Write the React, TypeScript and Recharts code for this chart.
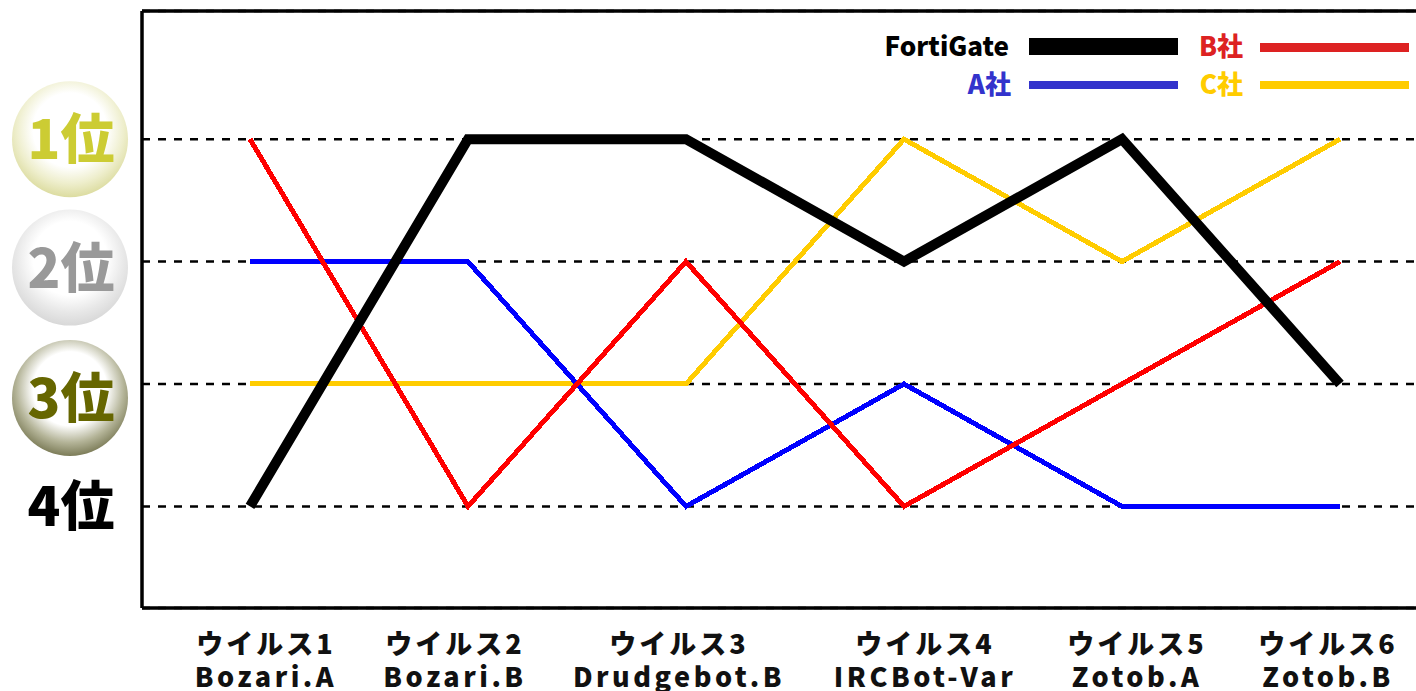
import React from 'react';
import { LineChart, Line, XAxis, YAxis, CartesianGrid, ReferenceLine } from 'recharts';

const viruses = ['ウイルス1', 'ウイルス2', 'ウイルス3', 'ウイルス4', 'ウイルス5', 'ウイルス6'];
const samples = ['Bozari.A', 'Bozari.B', 'Drudgebot.B', 'IRCBot-Var', 'Zotob.A', 'Zotob.B'];
const fortiGate = [4, 1, 1, 2, 1, 3];
const companyA = [2, 2, 4, 3, 4, 4];
const companyB = [1, 4, 2, 4, 3, 2];
const companyC = [3, 3, 3, 1, 2, 1];
const ranks = [1, 2, 3, 4];

// labels sit a bit off their points in the original
const labelShift = [16, -13, -7, 21, 15, -12];
const badgeShift = [0, 6, 14, 0];
const badgeText = ['#cccc33', '#999999', '#666600', '#000000'];

const chartData = viruses.map((name, i) => ({
  name,
  sample: samples[i],
  fortiGate: fortiGate[i],
  a: companyA[i],
  b: companyB[i],
  c: companyC[i],
}));

const FONT = '"Noto Sans CJK JP", "Noto Sans", sans-serif';

const RankTick = ({ y, payload }: any) => {
  const i = ranks.indexOf(payload.value);
  const cy = y + badgeShift[i];
  return (
    <g>
      {i < 3 && <circle cx={70} cy={cy} r={58} fill={`url(#badge${i})`} />}
      <text
        x={71}
        y={cy + 20}
        textAnchor="middle"
        fontFamily={FONT}
        fontWeight={900}
        fontSize={54}
        fill={badgeText[i]}
      >
        {payload.value}位
      </text>
    </g>
  );
};

const VirusTick = ({ x, y, payload, index }: any) => {
  const cx = x + labelShift[index];
  return (
    <text textAnchor="middle" fontFamily={FONT} fontWeight={900} fontSize={27} fill="#111">
      <tspan x={cx} y={y + 38} letterSpacing={3}>{payload.value}</tspan>
      <tspan x={cx} y={y + 71} letterSpacing={3.5}>{samples[index]}</tspan>
    </text>
  );
};

const LegendItem = ({ label, color, right, top, height, lineLeft, lineWidth, lineTop }: any) => (
  <>
    <div
      style={{
        position: 'absolute',
        right: 1416 - right,
        top,
        color,
        font: `900 26px ${FONT}`,
        lineHeight: '28px',
        whiteSpace: 'nowrap',
      }}
    >
      {label}
    </div>
    <div
      style={{
        position: 'absolute',
        left: lineLeft,
        top: lineTop,
        width: lineWidth,
        height,
        background: color,
      }}
    />
  </>
);

const badge = (id: string, edge: string, mid: string) => (
  <radialGradient id={id} cx="50%" cy="42%" r="58%">
    <stop offset="0%" stopColor="#ffffff" />
    <stop offset="55%" stopColor="#ffffff" />
    <stop offset="80%" stopColor={mid} />
    <stop offset="100%" stopColor={edge} />
  </radialGradient>
);

const App: React.FC = () => (
  <div style={{ position: 'absolute', left: 0, top: 0, width: 1416, height: 691, background: '#fff', overflow: 'hidden' }}>
    <LineChart
      width={1416}
      height={691}
      data={chartData}
      margin={{ top: 11, right: 0, bottom: 0, left: 0 }}
    >
      <defs>
        {badge('badge0', '#dcdca0', '#eeeecc')}
        {badge('badge1', '#d8d8d8', '#e8e8e8')}
        {badge('badge2', '#7c7c58', '#b4b498')}
      </defs>
      <CartesianGrid
        horizontal
        vertical={false}
        stroke="#000"
        strokeWidth={2.5}
        strokeDasharray="8 8"
      />
      <XAxis
        dataKey="name"
        scale="point"
        padding={{ left: 108, right: 76 }}
        height={83}
        interval={0}
        axisLine={{ stroke: '#000', strokeWidth: 3.5 }}
        tickLine={false}
        tick={<VirusTick />}
      />
      <YAxis
        type="number"
        reversed
        width={142}
        domain={[-0.047, 4.83]}
        ticks={ranks}
        allowDataOverflow
        axisLine={{ stroke: '#000', strokeWidth: 3.5 }}
        tickLine={false}
        tick={<RankTick />}
      />
      <ReferenceLine y={-0.047} stroke="#000" strokeWidth={3.5} />
      <Line dataKey="c" stroke="#ffcc00" strokeWidth={5} dot={false} isAnimationActive={false} shapeRendering="crispEdges" />
      <Line dataKey="a" stroke="#0000ff" strokeWidth={5} dot={false} isAnimationActive={false} shapeRendering="crispEdges" />
      <Line dataKey="b" stroke="#ff0000" strokeWidth={5} dot={false} isAnimationActive={false} shapeRendering="crispEdges" />
      <Line dataKey="fortiGate" stroke="#000" strokeWidth={10} dot={false} isAnimationActive={false} />
    </LineChart>
    <LegendItem label="FortiGate" color="#000" right={1009} top={31} lineLeft={1029} lineWidth={149} lineTop={38} height={17} />
    <LegendItem label="B社" color="#dd2222" right={1243} top={31} lineLeft={1260} lineWidth={149} lineTop={43} height={9} />
    <LegendItem label="A社" color="#3333cc" right={1011} top={69} lineLeft={1029} lineWidth={149} lineTop={81} height={8} />
    <LegendItem label="C社" color="#ffcc00" right={1243} top={69} lineLeft={1260} lineWidth={149} lineTop={81} height={8} />
  </div>
);

export default App;
